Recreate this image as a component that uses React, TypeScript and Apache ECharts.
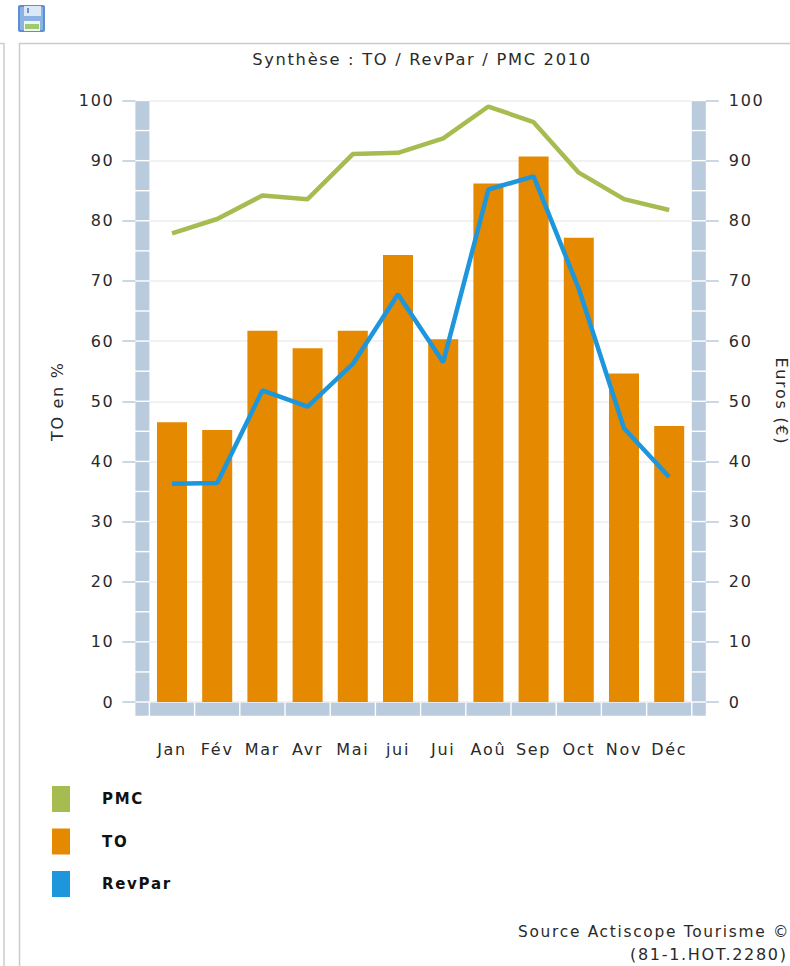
import React, { useEffect, useRef } from "react";
import * as echarts from "echarts";

const months = ["Jan", "Fév", "Mar", "Avr", "Mai", "jui", "Jui", "Aoû", "Sep", "Oct", "Nov", "Déc"];
const toValues = [46.5, 45.2, 61.7, 58.8, 61.7, 74.3, 60.3, 86.2, 90.7, 77.2, 54.6, 45.9];
const revParValues = [36.3, 36.4, 51.8, 49.1, 56.2, 67.8, 56.5, 85.2, 87.4, 68.7, 45.5, 37.4];
const pmcValues = [77.9, 80.3, 84.2, 83.6, 91.1, 91.3, 93.7, 99.0, 96.4, 88.0, 83.6, 81.8];
const wallSteps = [0, 5, 10, 15, 20, 25, 30, 35, 40, 45, 50, 55, 60, 65, 70, 75, 80, 85, 90, 95];

const FONT = "'DejaVu Sans', Verdana, sans-serif";
const BAND = "#b9cbdc";
const INK = "#2a2a2a";
const WALL = 14;

const sharedAxis = {
  min: 0,
  max: 100,
  interval: 10,
  offset: WALL,
  nameLocation: "middle" as const,
  nameTextStyle: { fontFamily: FONT, fontSize: 16, color: INK },
  axisLine: { show: false },
  axisTick: { show: true, length: 13, lineStyle: { color: BAND, width: 1.5 } },
};
const tickLabel = { fontFamily: FONT, fontSize: 16, color: INK };

export default function App() {
  const ref = useRef<HTMLDivElement>(null);
  useEffect(() => {
    const chart = echarts.init(ref.current!, null, { renderer: "svg" });
    chart.setOption({
      animation: false,
      backgroundColor: "#ffffff",
      title: {
        text: "Synthèse : TO / RevPar / PMC 2010",
        left: 417,
        top: 46,
        textAlign: "center",
        textStyle: { fontFamily: FONT, fontSize: 16.3, fontWeight: "normal", color: INK },
      },
      grid: { left: 149.4, top: 100.5, width: 542.4, height: 601.5, outerBoundsMode: "none" },
      legend: {
        orient: "vertical",
        left: 47,
        top: 781,
        itemWidth: 18,
        itemHeight: 26,
        itemGap: 16.5,
        data: [
          { name: "PMC", icon: "rect" },
          { name: "TO", icon: "rect" },
          { name: "RevPar", icon: "rect" },
        ],
        textStyle: { fontFamily: FONT, fontSize: 15, fontWeight: "bold", color: "#111", padding: [0, 0, 0, 27] },
      },
      xAxis: {
        type: "category",
        data: months,
        axisLine: { show: false },
        axisTick: { show: false },
        axisLabel: { ...tickLabel, margin: 39, interval: 0 },
      },
      yAxis: [
        {
          ...sharedAxis,
          type: "value",
          position: "left",
          name: "TO en %",
          nameGap: 70,
          nameRotate: 90,
          axisLabel: { ...tickLabel, margin: 21 },
          splitLine: { show: true, lineStyle: { color: "#eeeeee", width: 1.5 } },
        },
        {
          ...sharedAxis,
          type: "value",
          position: "right",
          name: "Euros (€)",
          nameGap: 68,
          nameRotate: -90,
          axisLabel: { ...tickLabel, margin: 23 },
          splitLine: { show: false },
        },
      ],
      series: [
        {
          type: "custom",
          name: "walls",
          silent: true,
          clip: false,
          z: 1,
          data: wallSteps.map((v) => [0, v]),
          renderItem: (params: any, api: any) => {
            const cs = params.coordSys;
            const v = api.value(1);
            const y0 = api.coord([0, v])[1];
            const y1 = api.coord([0, v + 5])[1];
            const style = { fill: BAND };
            const shape = (x: number) => ({ x, y: y1 + 0.7, width: WALL, height: y0 - y1 - 1.4 });
            return {
              type: "group",
              children: [
                { type: "rect", shape: shape(cs.x - WALL), style },
                { type: "rect", shape: shape(cs.x + cs.width), style },
              ],
            };
          },
        },
        {
          type: "custom",
          name: "floor",
          silent: true,
          clip: false,
          z: 1,
          data: months.map((_, i) => [i, 0]),
          renderItem: (params: any, api: any) => {
            const cs = params.coordSys;
            const i = api.value(0);
            const step = cs.width / months.length;
            const top = api.coord([i, 0])[1] + 0.7;
            const style = { fill: BAND };
            const children: any[] = [
              { type: "rect", shape: { x: cs.x + i * step + 0.7, y: top, width: step - 1.4, height: WALL - 1 }, style },
            ];
            if (i === 0) children.push({ type: "rect", shape: { x: cs.x - WALL, y: top, width: WALL - 0.7, height: WALL - 1 }, style });
            if (i === months.length - 1) children.push({ type: "rect", shape: { x: cs.x + cs.width + 0.7, y: top, width: WALL - 0.7, height: WALL - 1 }, style });
            return { type: "group", children };
          },
        },
        { type: "bar", name: "TO", data: toValues, barWidth: 30, itemStyle: { color: "#e48900" }, z: 2 },
        {
          type: "line",
          name: "PMC",
          data: pmcValues,
          yAxisIndex: 1,
          symbol: "none",
          lineStyle: { color: "#a6bc50", width: 4.5 },
          itemStyle: { color: "#a6bc50" },
          z: 3,
        },
        {
          type: "line",
          name: "RevPar",
          data: revParValues,
          yAxisIndex: 1,
          symbol: "none",
          lineStyle: { color: "#1e96dc", width: 4.5 },
          itemStyle: { color: "#1e96dc" },
          z: 4,
        },
      ],
      graphic: [
        { type: "line", shape: { x1: 0, y1: 43.5, x2: 4, y2: 43.5 }, style: { stroke: "#c8cccc", lineWidth: 1.5 } },
        { type: "line", shape: { x1: 4, y1: 43, x2: 4, y2: 966 }, style: { stroke: "#c8cccc", lineWidth: 1.5 } },
        { type: "line", shape: { x1: 19, y1: 43.5, x2: 790, y2: 43.5 }, style: { stroke: "#c8cccc", lineWidth: 1.5 } },
        { type: "line", shape: { x1: 19.5, y1: 43, x2: 19.5, y2: 966 }, style: { stroke: "#c8cccc", lineWidth: 1.5 } },
        {
          type: "group",
          children: [
            { type: "rect", shape: { x: 18, y: 5, width: 27, height: 27, r: 2 }, style: { fill: "#5f8ed0" } },
            { type: "rect", shape: { x: 20, y: 7, width: 23, height: 23, r: 1 }, style: { fill: "#8db3e4" } },
            { type: "rect", shape: { x: 24, y: 6, width: 17, height: 10 }, style: { fill: "#dde8f7" } },
            { type: "rect", shape: { x: 27, y: 8, width: 2, height: 5 }, style: { fill: "#6f92c8" } },
            { type: "rect", shape: { x: 24, y: 21, width: 16, height: 10 }, style: { fill: "#f1f5ef" } },
            { type: "rect", shape: { x: 25, y: 24, width: 14, height: 5 }, style: { fill: "#9dcb72" } },
          ],
        },
        {
          type: "text",
          x: 518,
          y: 924,
          style: { text: "Source Actiscope Tourisme ©", textAlign: "left", font: `15.4px ${FONT}`, fill: INK },
        },
        {
          type: "text",
          x: 630,
          y: 946,
          style: { text: "(81-1.HOT.2280)", textAlign: "left", font: `16px ${FONT}`, fill: INK },
        },
      ],
    });
    return () => chart.dispose();
  }, []);
  return (
    <div
      ref={ref}
      style={{ position: "absolute", left: 0, top: 0, width: 790, height: 966, overflow: "hidden", letterSpacing: "1.7px" }}
    />
  );
}
